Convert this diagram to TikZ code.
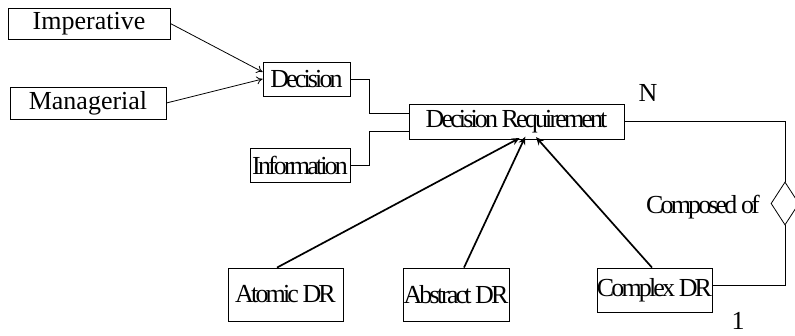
\documentclass[tikz,border=0pt]{standalone}
\usepackage{fontspec}
\setmainfont{Liberation Serif}
\newfontfamily\tightfont{Liberation Serif}[LetterSpace=-11]
\usetikzlibrary{arrows.meta,shapes.geometric}
\tikzset{
	box/.style={draw, line width=0.8pt, inner sep=0pt, font=\fontsize{26}{28}\selectfont},
	tightbox/.style={box, font=\fontsize{26}{28}\selectfont\tightfont},
	thinarrow/.style={line width=0.8pt, -{To[length=6pt,width=8pt]}},
	thickarrow/.style={line width=1.7pt, -{Stealth[length=8pt,width=7pt]}, shorten >=-3pt},
	link/.style={line width=0.8pt}
}
\begin{document}
\begin{tikzpicture}[x=1pt, y=-1pt]
			%%%%% START %%%%%
			\useasboundingbox (0, 0) rectangle (795, 336);
			
			\node[box, minimum width=162pt, minimum height=31pt] (imp) at (89, 23.5) {Imperative};
			\node[box, minimum width=156pt, minimum height=32pt] (mgr) at (88, 103) {Managerial};
			\node[tightbox, minimum width=87pt, minimum height=34pt] (dec) at (306.5, 79) {Decision};
			\node[tightbox, minimum width=100pt, minimum height=34pt] (info) at (300, 165) {Information};
			\node[tightbox, minimum width=215pt, minimum height=35pt] (dr) at (516.5, 121.5) {Decision Requirement};
			
			\node[tightbox, minimum width=115pt, minimum height=53pt] (atom) at (285.5, 294.5) {Atomic DR};
			\node[tightbox, minimum width=106pt, minimum height=53pt] (abst) at (456, 294.5) {Abstract DR};
			\node[tightbox, minimum width=115pt, minimum height=44pt] (cplx) at (654.5, 290) {Complex DR};
			
			\node[draw, link, diamond, inner sep=0pt, minimum width=28pt, minimum height=43pt] (dia) at (785, 203.5) {};
			\node[font=\fontsize{26}{28}\selectfont\tightfont] (comp) at (703, 207) {Composed of};
			\node[font=\fontsize{26}{28}\selectfont] (many) at (648, 93) {N};
			\node[font=\fontsize{26}{28}\selectfont, inner sep=1pt] (one) at (738, 321) {1};
			
			\draw[thinarrow] (imp.east) -- ([yshift=7pt]dec.west);
			\draw[thinarrow] (mgr.east) -- (dec.west);
			
			\draw[link] (dec.east) -- ++(19, 0) |- ([yshift=8.5pt]dr.west);
			\draw[link] (info.east) -- ++(19, 0) |- ([yshift=-9.5pt]dr.west);
			
			\draw[thickarrow] ([xshift=-8.5pt]atom.north) -- ([xshift=0.5pt]dr.south);
			\draw[thickarrow] ([xshift=8pt]abst.north) -- ([xshift=7.5pt]dr.south);
			\draw[thickarrow] ([xshift=-2.5pt]cplx.north) -- ([xshift=21.5pt]dr.south);
			
			\draw[link] (dr.east) -| (dia.north);
			\draw[link] ([yshift=5pt]cplx.east) -| (dia.south);
			%%%%% END %%%%%
\end{tikzpicture}
\end{document}
